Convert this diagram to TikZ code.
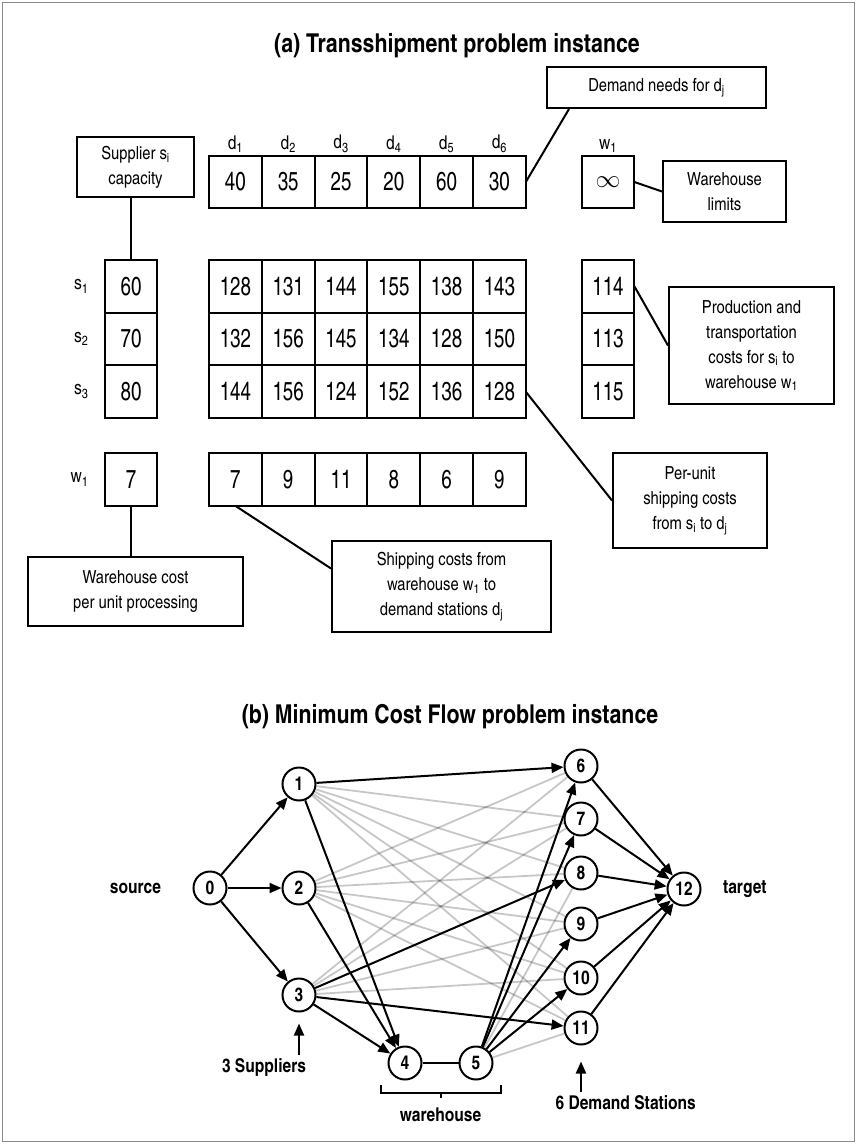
\documentclass[tikz,border=0pt]{standalone}
\usepackage{fontspec}
\setmainfont{texgyreheroscn}[Extension=.otf,UprightFont=*-regular,BoldFont=*-bold,ItalicFont=*-italic,BoldItalicFont=*-bolditalic]
\newfontfamily\numfont{texgyreheroscn}[Extension=.otf,UprightFont=*-regular,FakeStretch=0.88]
\usepackage{tikz}
\usetikzlibrary{arrows.meta,positioning}
\definecolor{tsFrame}{HTML}{8A8A8A}

\begin{document}
\begin{tikzpicture}[
  x=1pt, y=-1pt,
  node distance=0pt,
  cell/.style={
    draw,
    line width=2pt,
    outer sep=0pt,
    inner sep=0pt,
    minimum width=52.8pt,
    minimum height=52.7pt,
    font=\numfont\fontsize{26}{30}\selectfont
  },
  tag/.style={inner sep=0pt,font=\fontsize{19}{22}\selectfont},
  note/.style={
    draw,
    line width=2pt,
    inner sep=0pt,
    align=center,
    font=\fontsize{18}{25}\selectfont
  },
  lead/.style={line width=2pt},
  vert/.style={
    circle,
    draw,
    line width=2pt,
    minimum size=33pt,
    inner sep=0pt,
    font=\bfseries\fontsize{19}{22}\selectfont
  },
  flow/.style={line width=2pt,-{Triangle[length=12pt,width=10pt]}},
  faint/.style={line width=1.8pt,draw opacity=0.22},
  caption/.style={font=\bfseries\fontsize{19}{22}\selectfont},
  heading/.style={font=\bfseries\fontsize{26}{30}\selectfont}
]
  \useasboundingbox (0,0) rectangle (857,1144);
  \draw[tsFrame,line width=1.3pt] (2.5,2.5) rectangle (854.5,1141.5);

  % (a) transshipment tables
  \node[heading] (ttla) at (457,46) {(a) Transshipment problem instance};

  \node[cell] (d1) at (235.4,182) {40};
  \node[cell,right=of d1] (d2) {35};
  \node[cell,right=of d2] (d3) {25};
  \node[cell,right=of d3] (d4) {20};
  \node[cell,right=of d4] (d5) {60};
  \node[cell,right=of d5] (d6) {30};
  \node[tag,above=3pt of d1] (dl1) {d\textsubscript{1}};
  \node[tag,above=3pt of d2] (dl2) {d\textsubscript{2}};
  \node[tag,above=3pt of d3] (dl3) {d\textsubscript{3}};
  \node[tag,above=3pt of d4] (dl4) {d\textsubscript{4}};
  \node[tag,above=3pt of d5] (dl5) {d\textsubscript{5}};
  \node[tag,above=3pt of d6] (dl6) {d\textsubscript{6}};

  \node[cell] (inf) at (608,182) {$\infty$};
  \node[tag,above=3pt of inf] (infl) {w\textsubscript{1}};

  \node[cell] (s1) at (131,286.3) {60};
  \node[cell,below=of s1] (s2) {70};
  \node[cell,below=of s2] (s3) {80};
  \node[tag,left=16pt of s1] (sl1) {s\textsubscript{1}};
  \node[tag,left=16pt of s2] (sl2) {s\textsubscript{2}};
  \node[tag,left=16pt of s3] (sl3) {s\textsubscript{3}};

  \node[cell] (c11) at (235.4,286.3) {128};
  \node[cell,right=of c11] (c12) {131};
  \node[cell,right=of c12] (c13) {144};
  \node[cell,right=of c13] (c14) {155};
  \node[cell,right=of c14] (c15) {138};
  \node[cell,right=of c15] (c16) {143};
  \node[cell,below=of c11] (c21) {132};
  \node[cell,right=of c21] (c22) {156};
  \node[cell,right=of c22] (c23) {145};
  \node[cell,right=of c23] (c24) {134};
  \node[cell,right=of c24] (c25) {128};
  \node[cell,right=of c25] (c26) {150};
  \node[cell,below=of c21] (c31) {144};
  \node[cell,right=of c31] (c32) {156};
  \node[cell,right=of c32] (c33) {124};
  \node[cell,right=of c33] (c34) {152};
  \node[cell,right=of c34] (c35) {136};
  \node[cell,right=of c35] (c36) {128};

  \node[cell] (p1) at (608,286.3) {114};
  \node[cell,below=of p1] (p2) {113};
  \node[cell,below=of p2] (p3) {115};

  \node[cell] (wc) at (131,479.5) {7};
  \node[tag,left=16pt of wc] (wl) {w\textsubscript{1}};
  \node[cell] (e1) at (235.4,479.5) {7};
  \node[cell,right=of e1] (e2) {9};
  \node[cell,right=of e2] (e3) {11};
  \node[cell,right=of e3] (e4) {8};
  \node[cell,right=of e4] (e5) {6};
  \node[cell,right=of e5] (e6) {9};

  % callouts
  \node[note,minimum width=117pt,minimum height=60pt] (supp) at (135.5,167)
    {Supplier s\textsubscript{i}\\capacity};
  \node[note,minimum width=219pt,minimum height=41pt] (dem) at (656.5,87.5)
    {Demand needs for d\textsubscript{j}};
  \node[note,minimum width=123pt,minimum height=61pt] (lim) at (724.5,191.5)
    {Warehouse\\limits};
  \node[note,minimum width=165pt,minimum height=117pt] (prod) at (751.5,345.5)
    {Production and\\transportation\\costs for s\textsubscript{i} to\\warehouse w\textsubscript{1}};
  \node[note,minimum width=154pt,minimum height=95pt] (unit) at (690,500.5)
    {Per-unit\\shipping costs\\from s\textsubscript{i} to d\textsubscript{j}};
  \node[note,minimum width=219pt,minimum height=91pt] (ship) at (441.5,586.5)
    {Shipping costs from\\warehouse w\textsubscript{1} to\\demand stations d\textsubscript{j}};
  \node[note,minimum width=215pt,minimum height=69pt] (proc) at (135.5,591.5)
    {Warehouse cost\\per unit processing};

  \draw[lead] (s1.north) -- (s1.north |- supp.south);
  \draw[lead] (d6.east) -- ([xshift=23pt]dem.south west);
  \draw[lead] (inf.east) -- (lim.west);
  \draw[lead] (p1.east) -- (prod.west);
  \draw[lead] (c36.east) -- (unit.west);
  \draw[lead] (wc.south) -- (wc.south |- proc.north);
  \draw[lead] (e1.south) -- ([yshift=18pt]ship.west);

  % (b) minimum cost flow network
  \node[heading] (ttlb) at (450,717) {(b) Minimum Cost Flow problem instance};

  \node[vert] (n0) at (210,888) {0};
  \node[vert] (n1) at (299,784) {1};
  \node[vert] (n2) at (299,888) {2};
  \node[vert] (n3) at (299,995) {3};
  \node[vert] (n4) at (405,1063) {4};
  \node[vert] (n5) at (476,1063) {5};
  \node[vert] (n6) at (581,766) {6};
  \node[vert] (n7) at (581,819) {7};
  \node[vert] (n8) at (581,873) {8};
  \node[vert] (n9) at (581,924) {9};
  \node[vert] (n10) at (581,978) {10};
  \node[vert] (n11) at (581,1028) {11};
  \node[vert] (n12) at (684,889) {12};

  \node[caption,left=28pt of n0] (src) {source};
  \node[caption,right=18pt of n12] (tgt) {target};
  \node[caption] (sup) at (264,1067) {3 Suppliers};
  \node[caption,anchor=west] (stn) at (552,1103) {6 Demand Stations};
  \node[caption] (wh) at (440.5,1115) {warehouse};

  \draw[faint] (n1) -- (n7);
  \draw[faint] (n1) -- (n8);
  \draw[faint] (n1) -- (n9);
  \draw[faint] (n1) -- (n10);
  \draw[faint] (n1) -- (n11);
  \draw[faint] (n2) -- (n6);
  \draw[faint] (n2) -- (n7);
  \draw[faint] (n2) -- (n8);
  \draw[faint] (n2) -- (n9);
  \draw[faint] (n2) -- (n10);
  \draw[faint] (n2) -- (n11);
  \draw[faint] (n3) -- (n6);
  \draw[faint] (n3) -- (n7);
  \draw[faint] (n3) -- (n9);
  \draw[faint] (n3) -- (n10);
  \draw[faint] (n5) -- (n8);
  \draw[faint] (n5) -- (n11);

  \draw[flow] (n0) -- (n1);
  \draw[flow] (n0) -- (n2);
  \draw[flow] (n0) -- (n3);
  \draw[flow] (n1) -- (n6);
  \draw[flow] (n1) -- (n4);
  \draw[flow] (n2) -- (n4);
  \draw[flow] (n3) -- (n4);
  \draw[flow] (n3) -- (n8);
  \draw[flow] (n3) -- (n11);
  \draw[lead] (n4) -- (n5);
  \draw[flow] (n5) -- (n6);
  \draw[flow] (n5) -- (n7);
  \draw[flow] (n5) -- (n9);
  \draw[flow] (n5) -- (n10);
  \draw[flow] (n6) -- (n12);
  \draw[flow] (n7) -- (n12);
  \draw[flow] (n8) -- (n12);
  \draw[flow] (n9) -- (n12);
  \draw[flow] (n10) -- (n12);
  \draw[flow] (n11) -- (n12);

  \draw[flow] (sup.north -| n3) -- ([yshift=-11pt]n3.south);
  \draw[flow] (stn.north -| n11) -- ([yshift=-16pt]n11.south);
  \draw[lead] (381,1085) |- (501,1093) -- (501,1085);
  \draw[lead] (441,1093) -- (441,1098);
\end{tikzpicture}
\end{document}
